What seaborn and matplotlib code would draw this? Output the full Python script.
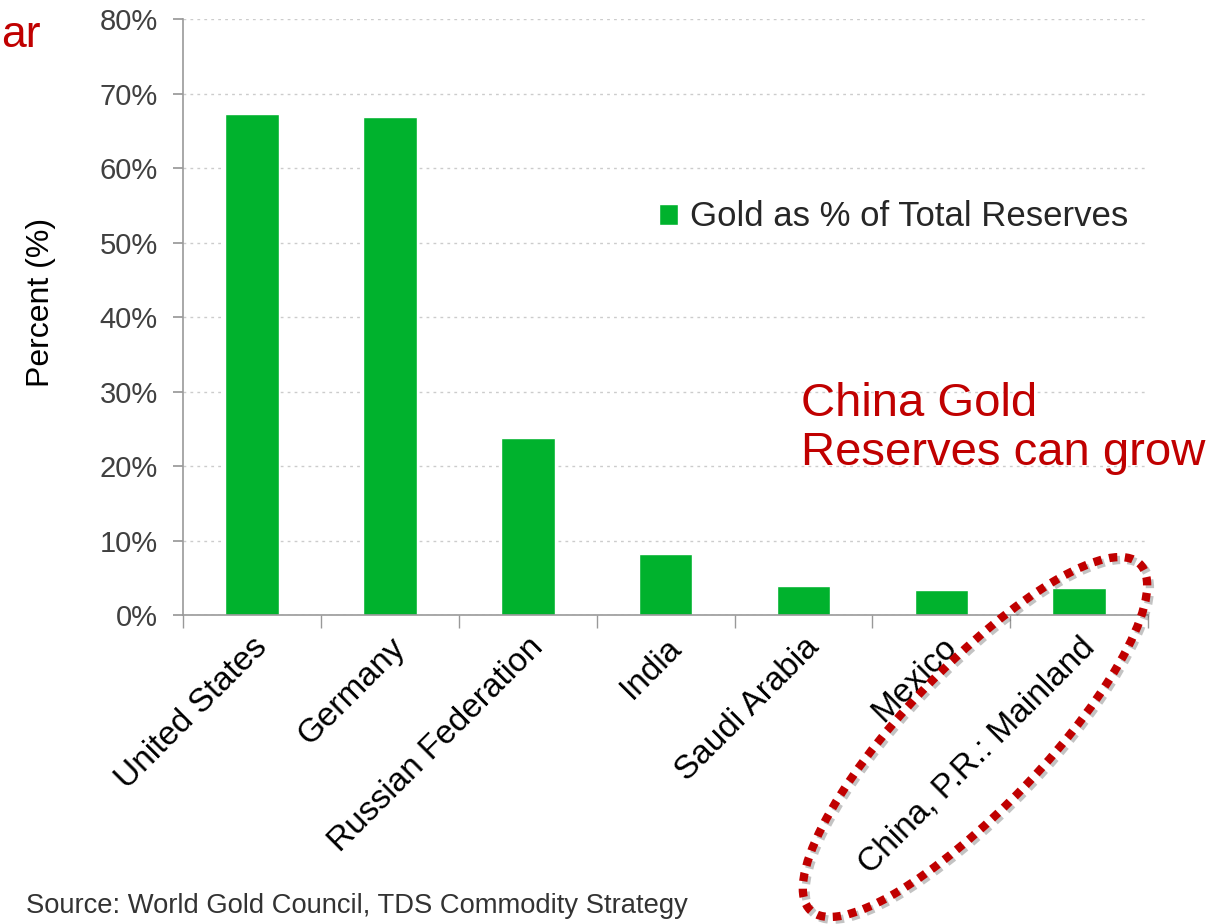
import matplotlib
matplotlib.use("Agg")
import matplotlib.pyplot as plt
import matplotlib.patches as mpatches
import matplotlib.patheffects as pe
from matplotlib.ticker import FixedLocator, PercentFormatter
from matplotlib.transforms import IdentityTransform
import pandas as pd
import seaborn as sns

countries = ["United States", "Germany", "Russian Federation", "India",
             "Saudi Arabia", "Mexico", "China, P.R.: Mainland"]
gold_pct = [67.2, 66.8, 23.8, 8.2, 3.9, 3.4, 3.6]
yticks = [0, 10, 20, 30, 40, 50, 60, 70, 80]

GREEN = "#00B22D"
RED = "#C00000"

sns.set_theme(style="white")
plt.rcParams["font.family"] = ["Liberation Sans", "DejaVu Sans"]

df = pd.DataFrame({"Country": countries, "Gold": gold_pct})

fig = plt.figure(figsize=(12.19, 9.24), dpi=100)
ax = fig.add_axes([0.150, 0.3344, 0.792, 0.645])

sns.barplot(data=df, x="Country", y="Gold", color=GREEN, saturation=1,
            width=0.39, ax=ax, label="Gold as % of Total Reserves")

ax.set_ylim(0, 80)
ax.set_xlim(-0.5, len(countries) - 0.5)
ax.set_yticks(yticks)
ax.yaxis.set_major_formatter(PercentFormatter(decimals=0))
ax.tick_params(axis="y", labelsize=21, labelcolor="#404040", length=7,
               color="#999999", direction="out", left=True, pad=11)

# category boundary ticks on the x axis
ax.xaxis.set_minor_locator(FixedLocator([i - 0.5 for i in range(len(countries) + 1)]))
ax.tick_params(axis="x", which="minor", length=9, color="#999999",
               direction="out", bottom=True)
ax.tick_params(axis="x", which="major", length=0, labelsize=24, pad=12)
plt.setp(ax.get_xticklabels(), rotation=45, ha="right", rotation_mode="anchor",
         color="black")

ax.yaxis.grid(True, linestyle=(0, (2, 3)), color="#cccccc", linewidth=1)
ax.set_axisbelow(True)
for s in ("top", "right"):
    ax.spines[s].set_visible(False)
for s in ("left", "bottom"):
    ax.spines[s].set_color("#999999")
    ax.spines[s].set_linewidth(1.2)

ax.set_xlabel("")
ax.set_ylabel("Percent (%)", fontsize=23, color="black")
ax.yaxis.set_label_coords(-0.131, 0.525)

leg = ax.legend(loc="center left", bbox_to_anchor=(0.461, 0.668), frameon=False,
                fontsize=25, handlelength=0.55, handleheight=0.55,
                handletextpad=0.35)

# annotations
fig.text(0.657, 0.536, "China Gold\nReserves can grow", color=RED,
         fontsize=34, ha="left", va="center", linespacing=1.15)
fig.text(0.001, 0.962, "ar", color=RED, fontsize=32, ha="left", va="center")
fig.text(0.021, 0.02, "Source: World Gold Council, TDS Commodity Strategy",
         fontsize=19.7, color="#333333", ha="left", va="center")

ell = mpatches.Ellipse((975, 924 - 737), 478, 140, angle=46.5,
                       transform=IdentityTransform(), fill=False,
                       edgecolor=RED, linewidth=6, linestyle=(0, (1, 0.9)),
                       path_effects=[pe.SimpleLineShadow(offset=(2, -2), alpha=0.35,
                                                          shadow_color="#555555"),
                                     pe.Normal()])
fig.patches.append(ell)

fig.savefig("out.png", dpi=100)
